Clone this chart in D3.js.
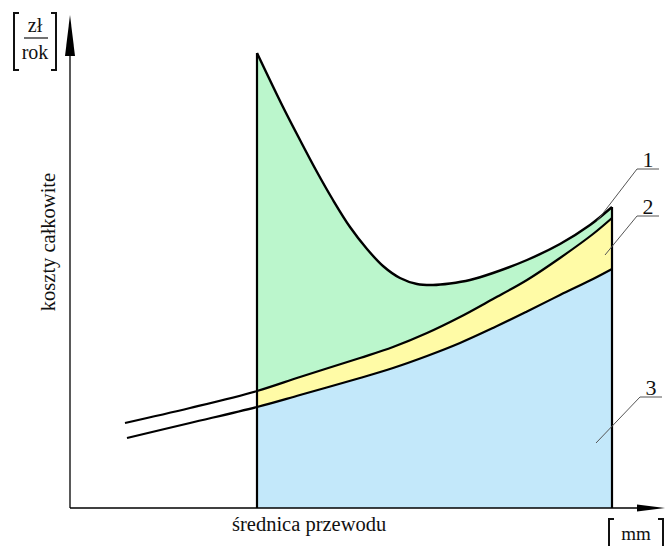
<!DOCTYPE html>
<html><head><meta charset="utf-8">
<script src="https://cdn.jsdelivr.net/npm/d3@7"></script>
<style>body{margin:0;background:#fff}svg{display:block}</style>
</head><body>
<script>
// diameter (x) and cost (y) in arbitrary units
const totalX = [37.4, 42.6, 46, 49.4, 52.6, 56, 59.4, 62.6, 66, 69.4, 72.6, 76, 80, 84.6, 91.4, 98, 104, 108.4];
const totalY = [91.0, 80.2, 73.6, 67.2, 61.6, 56.2, 51.8, 48.4, 46.0, 44.8, 44.6, 44.9, 45.6, 47.0, 49.6, 52.8, 56.6, 60.2];
const curve2X = [11, 24, 37.4, 46, 58, 64.6, 71.4, 78, 84.6, 91.4, 98, 104.6, 108.4];
const curve2Y = [17.0, 20.0, 23.4, 26.2, 30.0, 32.2, 35.0, 38.2, 41.8, 45.6, 50.0, 54.8, 58.0];
const curve3X = [11.4, 24, 37.4, 46, 58, 64.6, 71.4, 78, 84.6, 91.4, 98, 104.6, 108.4];
const curve3Y = [14.0, 17.0, 20.2, 22.6, 26.0, 28.0, 30.4, 33.0, 36.0, 39.3, 42.6, 45.8, 47.8];
const curveLabels = ["1", "2", "3"];
const labelAnchorX = [105.4, 107, 105.2];   // point on band
const labelAnchorY = [57.4, 50.6, 13.0];
const labelElbowX = [113.4, 113.4, 114];
const labelElbowY = [67.8, 58.4, 22.2];
const xTitle = "średnica przewodu";
const yTitle = "koszty całkowite";
const yUnitTop = "zł", yUnitBottom = "rok";
const xUnit = "mm";

const FONT = "'Liberation Serif', 'DejaVu Serif', 'Times New Roman', serif";
const W = 668, H = 546;
const svg = d3.select("body").append("svg").attr("width", W).attr("height", H)
  .style("font-family", FONT);
const x = d3.scaleLinear().domain([0, 119]).range([70, 665]);
const y = d3.scaleLinear().domain([0, 98]).range([508, 18]);

const pts = (xs, ys) => xs.map((v, i) => [v, ys[i]]);
const total = pts(totalX, totalY);
const c2 = pts(curve2X, curve2Y);
const c3 = pts(curve3X, curve3Y);
const xStart = totalX[0], xEnd = totalX[totalX.length - 1];
const inRange = p => p[0] >= xStart - 1e-9 && p[0] <= xEnd + 1e-9;

const curve = d3.curveCatmullRom.alpha(0.5);
const area = d3.area().x(d => x(d[0])).y0(y(0)).y1(d => y(d[1])).curve(curve);
const line = d3.line().x(d => x(d[0])).y(d => y(d[1])).curve(curve);

svg.append("path").attr("d", area(total)).attr("fill", "#bbf6cc");
svg.append("path").attr("d", area(c2.filter(inRange))).attr("fill", "#fffba6");
svg.append("path").attr("d", area(c3.filter(inRange))).attr("fill", "#c3e8fa");

// axes
const ax = svg.append("g").attr("stroke", "#000");
ax.append("line").attr("x1", x(0)).attr("x2", x(0)).attr("y1", y(0)).attr("y2", 40).attr("stroke-width", 1.3);
ax.append("line").attr("x1", x(0)).attr("x2", 645).attr("y1", y(0)).attr("y2", y(0)).attr("stroke-width", 1.3);
svg.append("path").attr("d", `M${x(0)},15 L${x(0)+5},56 L${x(0)-5},56 Z`).attr("fill", "#000");
svg.append("path").attr("d", `M665,${y(0)} L637,${y(0)-3.5} L637,${y(0)+3.5} Z`).attr("fill", "#000");

// vertical bounds
svg.append("line").attr("x1", x(xStart)).attr("x2", x(xStart)).attr("y1", y(0)).attr("y2", y(totalY[0]))
  .attr("stroke", "#000").attr("stroke-width", 2.2);
svg.append("line").attr("x1", x(xEnd)).attr("x2", x(xEnd)).attr("y1", y(0)).attr("y2", y(totalY[totalY.length-1]))
  .attr("stroke", "#000").attr("stroke-width", 2.2);

// curves
svg.append("path").attr("d", line(c3)).attr("fill", "none").attr("stroke", "#000").attr("stroke-width", 2.2);
svg.append("path").attr("d", line(c2)).attr("fill", "none").attr("stroke", "#000").attr("stroke-width", 2.2);
svg.append("path").attr("d", line(total)).attr("fill", "none").attr("stroke", "#000").attr("stroke-width", 2.4)
  .attr("stroke-linejoin", "round");

// leader labels
curveLabels.forEach((t, i) => {
  const ex = x(labelElbowX[i]), ey = y(labelElbowY[i]);
  svg.append("path").attr("d", `M${x(labelAnchorX[i])},${y(labelAnchorY[i])} L${ex},${ey} L${ex + 22},${ey}`)
    .attr("fill", "none").attr("stroke", "#555").attr("stroke-width", 1);
  svg.append("text").attr("x", ex + 11).attr("y", ey - 2).attr("text-anchor", "middle")
    .attr("font-family", FONT).attr("fill", "#111").attr("font-size", 22).text(t);
});

// axis titles
svg.append("text").attr("x", x(xStart) - 25).attr("y", 531).attr("font-family", FONT).attr("fill", "#111")
  .attr("font-size", 20.5).text(xTitle);
svg.append("text").attr("transform", `translate(55,242) rotate(-90)`).attr("text-anchor", "middle")
  .attr("font-family", FONT).attr("fill", "#111").attr("font-size", 20.5).text(yTitle);

// unit top-left
function bracket(g, xx, y1, y2, dir) {
  g.append("path").attr("d", `M${xx + dir*5},${y1} L${xx},${y1} L${xx},${y2} L${xx + dir*5},${y2}`)
    .attr("fill", "none").attr("stroke", "#111").attr("stroke-width", 2);
}
const u = svg.append("g");
bracket(u, 14, 13, 70, 1);
bracket(u, 56, 13, 70, -1);
u.append("text").attr("x", 35).attr("y", 32).attr("text-anchor", "middle").attr("font-family", FONT)
  .attr("fill", "#111").attr("font-size", 20).text(yUnitTop);
u.append("line").attr("x1", 24).attr("x2", 48).attr("y1", 38).attr("y2", 38).attr("stroke", "#111").attr("stroke-width", 1.2);
u.append("text").attr("x", 35).attr("y", 59).attr("text-anchor", "middle").attr("font-family", FONT)
  .attr("fill", "#111").attr("font-size", 20).text(yUnitBottom);

// unit bottom-right
const m = svg.append("g");
bracket(m, 609, 519, 552, 1);
bracket(m, 663, 519, 552, -1);
m.append("text").attr("x", 636).attr("y", 540).attr("text-anchor", "middle").attr("font-family", FONT)
  .attr("fill", "#111").attr("font-size", 19).text(xUnit);
</script>
</body></html>
